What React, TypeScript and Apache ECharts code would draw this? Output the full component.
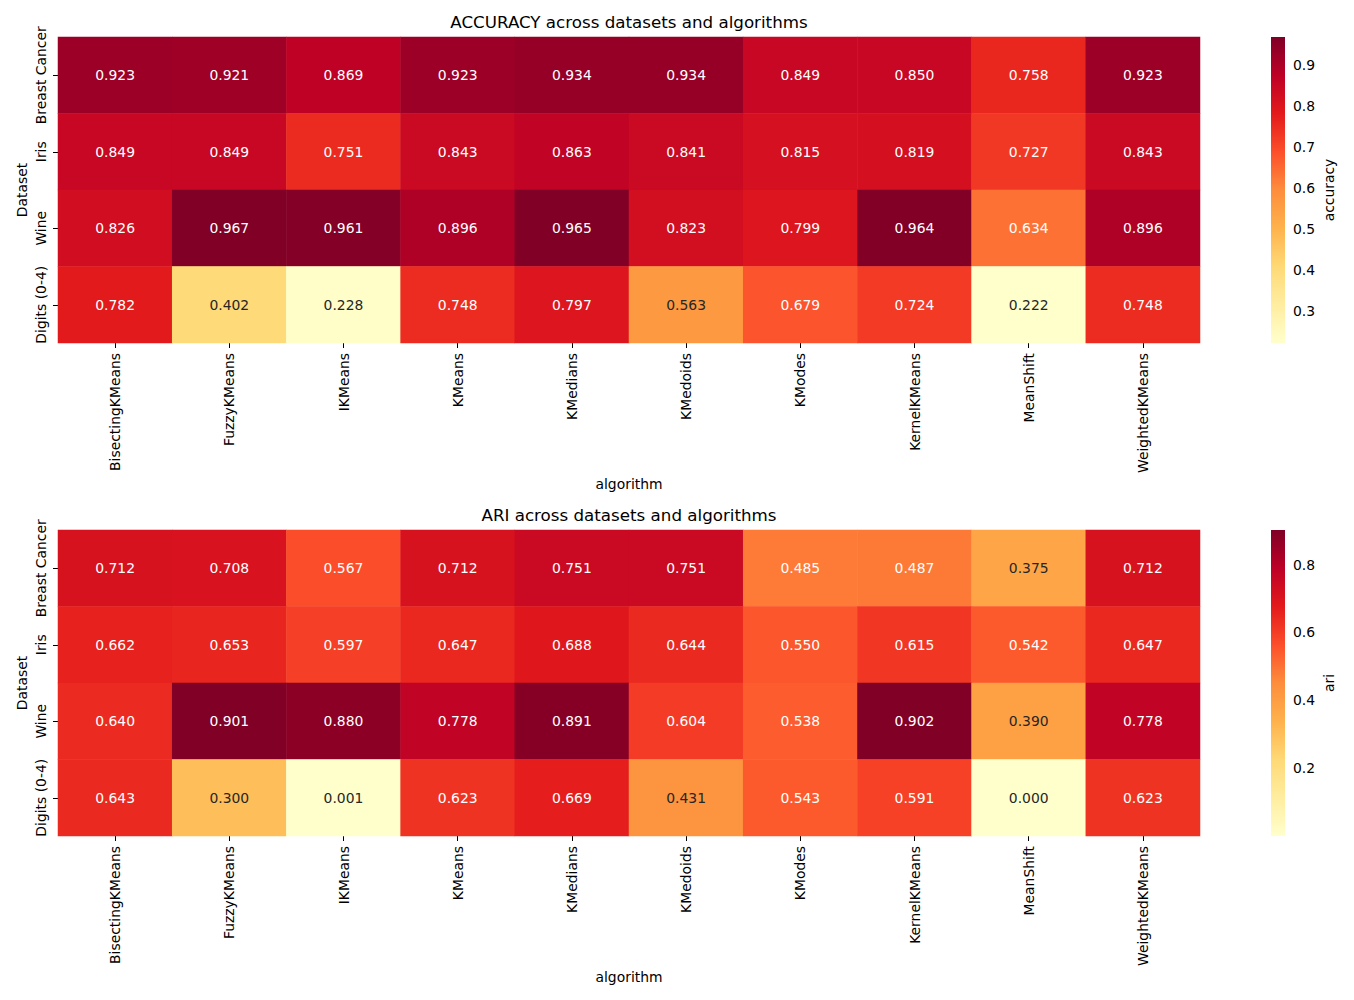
import React, { useEffect, useRef } from "react";
import * as echarts from "echarts";

const datasets = ["Breast Cancer", "Iris", "Wine", "Digits (0-4)"];
const algorithms = [
  "BisectingKMeans", "FuzzyKMeans", "IKMeans", "KMeans", "KMedians",
  "KMedoids", "KModes", "KernelKMeans", "MeanShift", "WeightedKMeans",
];

const accuracy = [
  [0.923, 0.921, 0.869, 0.923, 0.934, 0.934, 0.849, 0.850, 0.758, 0.923],
  [0.849, 0.849, 0.751, 0.843, 0.863, 0.841, 0.815, 0.819, 0.727, 0.843],
  [0.826, 0.967, 0.961, 0.896, 0.965, 0.823, 0.799, 0.964, 0.634, 0.896],
  [0.782, 0.402, 0.228, 0.748, 0.797, 0.563, 0.679, 0.724, 0.222, 0.748],
];

const ari = [
  [0.712, 0.708, 0.567, 0.712, 0.751, 0.751, 0.485, 0.487, 0.375, 0.712],
  [0.662, 0.653, 0.597, 0.647, 0.688, 0.644, 0.550, 0.615, 0.542, 0.647],
  [0.640, 0.901, 0.880, 0.778, 0.891, 0.604, 0.538, 0.902, 0.390, 0.778],
  [0.643, 0.300, 0.001, 0.623, 0.669, 0.431, 0.543, 0.591, 0.000, 0.623],
];

const accTicks = [0.3, 0.4, 0.5, 0.6, 0.7, 0.8, 0.9];
const ariTicks = [0.2, 0.4, 0.6, 0.8];

const ylorrd = [
  "#ffffcc", "#ffeda0", "#fed976", "#feb24c", "#fd8d3c",
  "#fc4e2a", "#e31a1c", "#bd0026", "#800026",
];

const FONT = "DejaVu Sans";

function buildPanel(
  idx: number,
  matrix: number[][],
  ticks: number[],
  title: string,
  metric: string,
  top: number
) {
  const flat = matrix.flat();
  const min = Math.min(...flat);
  const max = Math.max(...flat);
  const data: any[] = [];
  matrix.forEach((row, r) =>
    row.forEach((v, c) => {
      const t = (v - min) / (max - min);
      data.push({
        value: [c, r, v],
        label: { color: t >= 0.5 ? "#ffffff" : "#262626" },
      });
    })
  );
  const gi = idx * 2;
  const grids = [
    { left: 58, top, width: 1142, height: 306 },
    { left: 1271, top, width: 14, height: 306 },
  ];
  const xAxes = [
    {
      gridIndex: gi,
      type: "category",
      data: algorithms,
      position: "bottom",
      axisLine: { show: false },
      axisTick: { show: true, alignWithLabel: true, length: 5, lineStyle: { color: "#000", width: 1 } },
      axisLabel: { rotate: 90, fontSize: 13.9, color: "#000", fontFamily: FONT, margin: 10, interval: 0 },
      name: "algorithm",
      nameLocation: "middle",
      nameGap: 134,
      nameTextStyle: { fontSize: 13.9, color: "#000", fontFamily: FONT },
      splitLine: { show: false },
    },
    {
      gridIndex: gi + 1,
      type: "value",
      min: 0,
      max: 1,
      show: false,
    },
  ];
  const yAxes = [
    {
      gridIndex: gi,
      type: "category",
      data: datasets,
      inverse: true,
      axisLine: { show: false },
      axisTick: { show: true, alignWithLabel: true, length: 5, lineStyle: { color: "#000", width: 1 } },
      axisLabel: { rotate: 90, fontSize: 13.9, color: "#000", fontFamily: FONT, margin: 10, interval: 0 },
      name: "Dataset",
      nameLocation: "middle",
      nameGap: 29,
      nameMoveOverlap: false,
      nameRotate: 90,
      nameTextStyle: { fontSize: 13.9, color: "#000", fontFamily: FONT },
      splitLine: { show: false },
    },
    {
      gridIndex: gi + 1,
      type: "value",
      position: "right",
      min,
      max,
      axisLine: { show: false },
      splitLine: { show: false },
      axisTick: { show: true, length: 5, customValues: ticks, lineStyle: { color: "#000", width: 1 } },
      axisLabel: { show: true, customValues: ticks, fontSize: 13.9, color: "#000", fontFamily: FONT, margin: 8 },
      name: metric,
      nameLocation: "middle",
      nameGap: 37,
      nameRotate: 90,
      nameTextStyle: { fontSize: 13.9, color: "#000", fontFamily: FONT },
    },
  ];
  const series = [
    {
      type: "heatmap",
      xAxisIndex: gi,
      yAxisIndex: gi,
      data,
      label: {
        show: true,
        fontSize: 13.9,
        fontFamily: FONT,
        formatter: (p: any) => p.value[2].toFixed(3),
      },
      itemStyle: { borderWidth: 0 },
      emphasis: { disabled: true },
    },
    {
      type: "custom",
      xAxisIndex: gi + 1,
      yAxisIndex: gi + 1,
      data: [[0, min, max]],
      renderItem: (params: any, api: any) => {
        const p1 = api.coord([0, max]);
        const p2 = api.coord([1, min]);
        const stops = ylorrd
          .map((c, i) => ({ offset: 1 - i / (ylorrd.length - 1), color: c }))
          .reverse();
        return {
          type: "rect",
          shape: { x: p1[0], y: p1[1], width: p2[0] - p1[0], height: p2[1] - p1[1] },
          style: { fill: new echarts.graphic.LinearGradient(0, 0, 0, 1, stops) },
        };
      },
      silent: true,
    },
  ];
  const visualMap = {
    type: "continuous",
    show: false,
    min,
    max,
    seriesIndex: idx * 2,
    dimension: 2,
    inRange: { color: ylorrd },
  };
  const titleObj = {
    text: title,
    left: 629,
    top: top - 24,
    padding: 0,
    textAlign: "center",
    textStyle: { fontSize: 16.7, fontWeight: "normal", color: "#000", fontFamily: FONT },
  };
  return { grids, xAxes, yAxes, series, visualMap, titleObj };
}

export default function App() {
  const ref = useRef<HTMLDivElement>(null);
  useEffect(() => {
    document.body.style.margin = "0";
    if (!ref.current) return;
    const chart = echarts.init(ref.current, null, { renderer: "svg" });
    const a = buildPanel(0, accuracy, accTicks, "ACCURACY across datasets and algorithms", "accuracy", 37);
    const b = buildPanel(1, ari, ariTicks, "ARI across datasets and algorithms", "ari", 530);
    chart.setOption({
      animation: false,
      backgroundColor: "#ffffff",
      textStyle: { fontFamily: FONT },
      title: [a.titleObj, b.titleObj],
      grid: [...a.grids, ...b.grids],
      xAxis: [...a.xAxes, ...b.xAxes],
      yAxis: [...a.yAxes, ...b.yAxes],
      visualMap: [a.visualMap, b.visualMap],
      series: [...a.series, ...b.series],
    });
    return () => chart.dispose();
  }, []);
  return <div ref={ref} style={{ width: 1354, height: 1000 }} />;
}
